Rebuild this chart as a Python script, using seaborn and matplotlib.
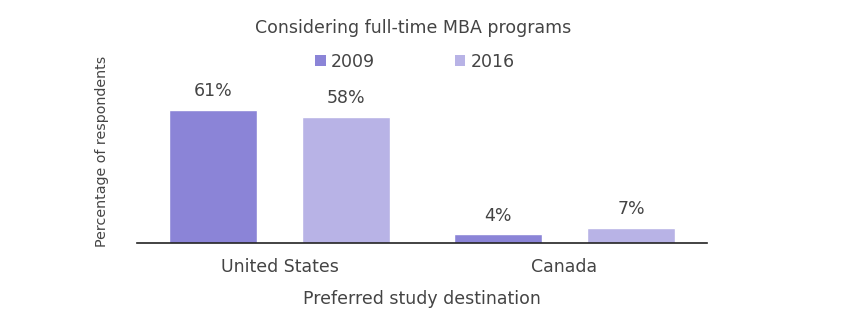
import matplotlib
matplotlib.use("Agg")
import matplotlib.pyplot as plt
from matplotlib.patches import Patch
import seaborn as sns
import pandas as pd

destinations = ["United States", "Canada"]
years = ["2009", "2016"]
share_2009 = [61, 4]
share_2016 = [58, 7]

colors = {"2009": "#8b84d7", "2016": "#b8b3e6"}
text_color = "#444444"

df = pd.DataFrame({
    "destination": destinations * 2,
    "year": [years[0]] * len(destinations) + [years[1]] * len(destinations),
    "share": share_2009 + share_2016,
})

sns.set_style("white")
plt.rcParams["font.family"] = ["DejaVu Sans"]

fig = plt.figure(figsize=(8.66, 3.36), dpi=100)
ax = fig.add_axes([137 / 866, 93 / 336, 570 / 866, 183 / 336])

sns.barplot(data=df, x="destination", y="share", hue="year",
            palette=colors, width=0.933, gap=0.338, ax=ax,
            legend=False, saturation=1, errorbar=None)

for container in ax.containers:
    ax.bar_label(container, labels=[f"{v:.0f}%" for v in container.datavalues],
                 padding=7, fontsize=12.5, color=text_color)

ax.set_xlim(-0.5, 1.5)
ax.set_ylim(0, 183 / (133 / 61))
ax.set_yticks([])
ax.tick_params(axis="x", length=0, pad=11, labelsize=12.5, labelcolor=text_color)
for side in ("top", "right", "left"):
    ax.spines[side].set_visible(False)
ax.spines["bottom"].set_color("#222222")
ax.spines["bottom"].set_linewidth(1.2)

ax.set_xlabel("Preferred study destination", fontsize=12.5, color=text_color, labelpad=10)
ax.set_ylabel("Percentage of respondents", fontsize=10.3, color=text_color)
ax.yaxis.set_label_coords(-(137 - 109) / 570, (243 - 151) / 183)

fig.text(413 / 866, 1 - 28 / 336, "Considering full-time MBA programs",
         ha="center", va="center", fontsize=12.5, color=text_color)

handles = [Patch(facecolor=colors[y], edgecolor="none") for y in years]
fig.legend(handles, years, loc="center", bbox_to_anchor=(415 / 866, 1 - 62 / 336),
           ncol=2, frameon=False, fontsize=12.5, labelcolor=text_color,
           handlelength=0.6, handleheight=0.6, handletextpad=0.3, columnspacing=4.6)

fig.savefig("out.png", dpi=100)
